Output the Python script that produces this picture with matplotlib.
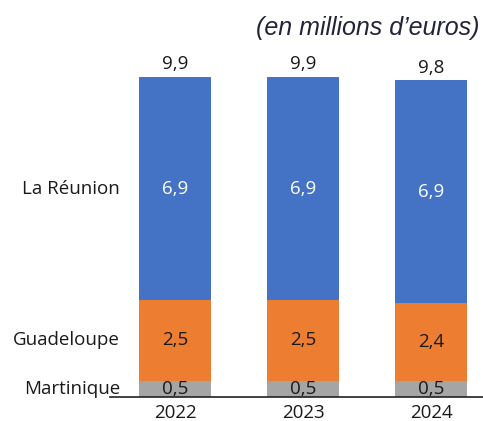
import numpy as np
import matplotlib.pyplot as plt

# donnees (en millions d'euros)
annees = ['2022', '2023', '2024']
martinique = [0.5, 0.5, 0.5]
guadeloupe = [2.5, 2.5, 2.4]
reunion = [6.9, 6.9, 6.9]
totaux = [9.9, 9.9, 9.8]
series = ['Martinique', 'Guadeloupe', 'La Réunion']
couleurs = ['#A5A5A5', '#ED7D31', '#4472C4']

def fr(v):
    return f'{v:.1f}'.replace('.', ',')

fig = plt.figure(figsize=(4.83, 4.21), dpi=100)
ax = fig.add_axes([110/483, 24/421, 373/483, 357/421])

fs = 13.5
x = np.arange(len(annees))
w = 0.5625
bas = np.zeros(len(annees))
for nom, vals, c in zip(series, [martinique, guadeloupe, reunion], couleurs):
    vals = np.array(vals)
    ax.bar(x, vals, w, bottom=bas, color=c)
    for xi, b, v in zip(x, bas, vals):
        coul_txt = 'white' if c == '#4472C4' else '#1a1a1a'
        ax.text(xi, b + v/2, fr(v), ha='center', va='center', fontsize=fs,
                color=coul_txt, family='Open Sans')
    # nom de la serie a gauche
    ax.text(-0.43, bas[0] + vals[0]/2, nom, ha='right', va='center',
            fontsize=fs, color='#1a1a1a', family='Open Sans')
    bas = bas + vals

for xi, t, b in zip(x, totaux, bas):
    ax.text(xi, b + 0.12, fr(t), ha='center', va='bottom', fontsize=fs,
            color='#1a1a1a', family='Open Sans')

ax.set_xlim(-0.508, 2.406)
ax.set_ylim(0, 357/32.3)
ax.set_xticks(x)
ax.set_xticklabels(annees, fontsize=fs, family='Open Sans', color='#1a1a1a')
ax.tick_params(axis='x', length=0, pad=5)
ax.set_yticks([])
for s in ['top', 'right', 'left']:
    ax.spines[s].set_visible(False)
ax.spines['bottom'].set_color('#222222')
ax.spines['bottom'].set_linewidth(1.2)

fig.text(480/483, 1 - 28/421, '(en millions d\u2019euros)', ha='right', va='center',
         fontsize=18, style='italic', family='Liberation Sans', color='#23233a')

plt.savefig('out.png', dpi=100)
